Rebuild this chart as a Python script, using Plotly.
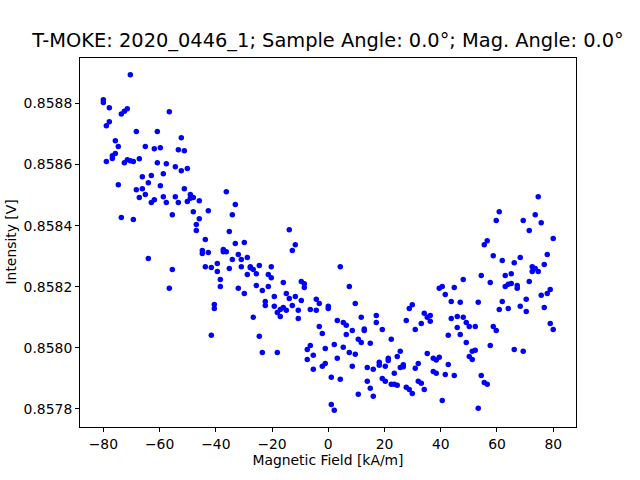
import plotly.graph_objects as go

# Magnetic field values (kA/m), one per measurement step
field = [
    -80.00, -78.93, -77.87, -76.80, -75.73, -74.67, -73.60, -72.53, -71.47, -70.40,
    -69.33, -68.27, -67.20, -66.13, -65.07, -64.00, -62.93, -61.87, -60.80, -59.73,
    -58.67, -57.60, -56.53, -55.47, -54.40, -53.33, -52.27, -51.20, -50.13, -49.07,
    -48.00, -46.93, -45.87, -44.80, -43.73, -42.67, -41.60, -40.53, -39.47, -38.40,
    -37.33, -36.27, -35.20, -34.13, -33.07, -32.00, -30.93, -29.87, -28.80, -27.73,
    -26.67, -25.60, -24.53, -23.47, -22.40, -21.33, -20.27, -19.20, -18.13, -17.07,
    -16.00, -14.93, -13.87, -12.80, -11.73, -10.67, -9.60, -8.53, -7.47, -6.40,
    -5.33, -4.27, -3.20, -2.13, -1.07, 0.00, 1.07, 2.13, 3.20, 4.27,
    5.33, 6.40, 7.47, 8.53, 9.60, 10.67, 11.73, 12.80, 13.87, 14.93,
    16.00, 17.07, 18.13, 19.20, 20.27, 21.33, 22.40, 23.47, 24.53, 25.60,
    26.67, 27.73, 28.80, 29.87, 30.93, 32.00, 33.07, 34.13, 35.20, 36.27,
    37.33, 38.40, 39.47, 40.53, 41.60, 42.67, 43.73, 44.80, 45.87, 46.93,
    48.00, 49.07, 50.13, 51.20, 52.27, 53.33, 54.40, 55.47, 56.53, 57.60,
    58.67, 59.73, 60.80, 61.87, 62.93, 64.00, 65.07, 66.13, 67.20, 68.27,
    69.33, 70.40, 71.47, 72.53, 73.60, 74.67, 75.73, 76.80, 77.87, 78.93,
    80.00,
]

# Intensity (V), first pass over the field values
sweep_1 = [
    0.858812, 0.858727, 0.858786, 0.858629, 0.858678, 0.858659, 0.858766, 0.858775, 0.858783, 0.858894,
    0.858610, 0.858708, 0.858619, 0.858560, 0.858659, 0.858541, 0.858564, 0.858652, 0.858708, 0.858655,
    0.858570, 0.858603, 0.858773, 0.858436, 0.858593, 0.858649, 0.858688, 0.858645, 0.858587, 0.858502,
    0.858492, 0.858404, 0.858482, 0.858319, 0.858355, 0.858449, 0.858263, 0.858142, 0.858276, 0.858224,
    0.858322, 0.858511, 0.858381, 0.858436, 0.858469, 0.858306, 0.858289, 0.858345, 0.858296, 0.858266,
    0.858257, 0.858243, 0.858270, 0.858188, 0.858152, 0.858240, 0.858266, 0.858168, 0.858116, 0.858126,
    0.858214, 0.858178, 0.858387, 0.858319, 0.858338, 0.858123, 0.858217, 0.858198, 0.857995, 0.858126,
    0.857976, 0.858159, 0.858145, 0.858047, 0.857998, 0.858136, 0.857904, 0.858011, 0.858090, 0.858266,
    0.858083, 0.858074, 0.858201, 0.858057, 0.858145, 0.858028, 0.858100, 0.858057, 0.857936, 0.858015,
    0.857930, 0.858106, 0.857953, 0.858060, 0.857940, 0.857966, 0.858028, 0.857917, 0.857972, 0.857989,
    0.857945, 0.858090, 0.858129, 0.858141, 0.858060, 0.857949, 0.858080, 0.858113, 0.858100, 0.858106,
    0.857966, 0.857917, 0.858195, 0.858201, 0.858175, 0.858041, 0.858152, 0.858198, 0.858103, 0.858149,
    0.858224, 0.858083, 0.858070, 0.857989, 0.858070, 0.858149, 0.858237, 0.858338, 0.858351, 0.858214,
    0.858302, 0.858417, 0.858446, 0.858286, 0.858237, 0.858208, 0.858243, 0.858279, 0.858204, 0.858296,
    0.858417, 0.858159, 0.858384, 0.858266, 0.858436, 0.858495, 0.858410, 0.858273, 0.858306, 0.858191,
    0.858358,
]

# Intensity (V), second pass over the field values
sweep_2 = [
    0.858803, 0.858610, 0.858740, 0.858620, 0.858636, 0.858534, 0.858427, 0.858606, 0.858616, 0.858613,
    0.858420, 0.858518, 0.858492, 0.858521, 0.858502, 0.858293, 0.858476, 0.858485, 0.858606, 0.858531,
    0.858495, 0.858476, 0.858195, 0.858257, 0.858495, 0.858476, 0.858580, 0.858521, 0.858479, 0.858490,
    0.858446, 0.858384, 0.858423, 0.858309, 0.858266, 0.858312, 0.858041, 0.858129, 0.858250, 0.858201,
    0.858315, 0.858315, 0.858260, 0.858289, 0.858342, 0.858195, 0.858266, 0.858178, 0.858240, 0.858262,
    0.858100, 0.858204, 0.858038, 0.857985, 0.858139, 0.858201, 0.858230, 0.858136, 0.857985, 0.858103,
    0.858132, 0.858123, 0.858162, 0.858139, 0.858168, 0.858096, 0.858155, 0.858210, 0.857962, 0.858008,
    0.857930, 0.858123, 0.858070, 0.857940, 0.857949, 0.858129, 0.857815, 0.857796, 0.857966, 0.857897,
    0.858002, 0.858044, 0.857985, 0.857940, 0.857979, 0.857848, 0.858018, 0.858062, 0.857891, 0.857868,
    0.857842, 0.858083, 0.857943, 0.857900, 0.857891, 0.857959, 0.857881, 0.857881, 0.857878, 0.857936,
    0.857938, 0.857871, 0.857864, 0.857851, 0.857933, 0.857891, 0.857884, 0.857864, 0.857982, 0.858087,
    0.857923, 0.857960, 0.857969, 0.857828, 0.857913, 0.857946, 0.858096, 0.857910, 0.858067, 0.858044,
    0.858100, 0.858018, 0.857972, 0.857962, 0.857992, 0.857802, 0.857910, 0.857887, 0.857881, 0.858008,
    0.858070, 0.858057, 0.858126, 0.858152, 0.858201, 0.858129, 0.858211, 0.857995, 0.858195, 0.858136,
    0.857989, 0.858119, 0.858217, 0.858250, 0.858260, 0.858250, 0.858172, 0.858132, 0.858178, 0.858080,
    0.858060,
]

x_ticks = [-80, -60, -40, -20, 0, 20, 40, 60, 80]
y_ticks = [0.8578, 0.8580, 0.8582, 0.8584, 0.8586, 0.8588]
y_tick_text = ["0.8578", "0.8580", "0.8582", "0.8584", "0.8586", "0.8588"]

title_text = "T-MOKE: 2020_0446_1; Sample Angle: 0.0°; Mag. Angle: 0.0°"
x_label = "Magnetic Field [kA/m]"
y_label = "Intensity [V]"

x_all = field + field
y_all = sweep_1 + sweep_2

fig = go.Figure()
fig.add_trace(go.Scatter(
    x=x_all, y=y_all, mode="markers",
    marker=dict(color="#0000ff", size=5.5, line=dict(width=0)),
    showlegend=False,
))

font_family = "DejaVu Sans"
fig.update_layout(
    width=640, height=480,
    margin=dict(l=80, r=64, t=58, b=53, autoexpand=False),
    paper_bgcolor="white", plot_bgcolor="white",
    font=dict(family=font_family, size=13.9, color="black"),
    title=dict(text=title_text, x=328 / 640, xanchor="center",
               y=1 - 40 / 480, yanchor="middle",
               font=dict(family=font_family, size=19.4, color="black")),
)
fig.update_xaxes(
    range=[-88.3, 88.1], tickvals=x_ticks,
    showgrid=False, zeroline=False,
    showline=True, linecolor="black", linewidth=1, mirror=True,
    ticks="outside", ticklen=4, tickcolor="black", tickwidth=1,
    tickfont=dict(size=13.9),
    title=dict(text=x_label, font=dict(size=13.9), standoff=4),
)
fig.update_yaxes(
    range=[0.857741, 0.858949], tickvals=y_ticks, ticktext=y_tick_text,
    showgrid=False, zeroline=False,
    showline=True, linecolor="black", linewidth=1, mirror=True,
    ticks="outside", ticklen=4, tickcolor="black", tickwidth=1,
    tickfont=dict(size=13.9),
)
fig.add_annotation(
    text=y_label, textangle=-90, showarrow=False,
    xref="paper", yref="paper", x=-70 / 496, y=0.5,
    xanchor="center", yanchor="middle",
    font=dict(family=font_family, size=13.9, color="black"),
)

# remove the default page margin so the figure sits at the window's top-left
fig.write_html("out.html", config={"displayModeBar": False},
               post_script="document.body.style.margin='0';")
